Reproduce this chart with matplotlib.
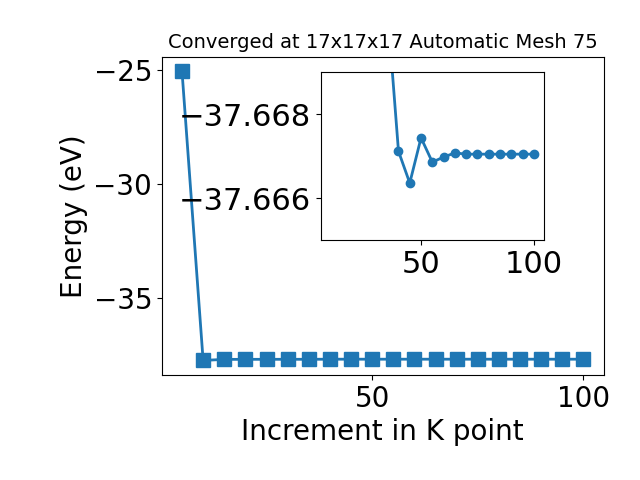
import matplotlib
matplotlib.use('Agg')
import matplotlib.pyplot as plt

# K point increments and total energies (eV)
kpts = [5, 10, 15, 20, 25, 30, 35, 40, 45, 50, 55, 60, 65, 70, 75, 80, 85, 90, 95, 100]
energy = [-25.05, -37.72, -37.675, -37.673, -37.672, -37.671, -37.6706,
          -37.66712, -37.66636, -37.66744, -37.66686, -37.66698, -37.66708,
          -37.66705, -37.66705, -37.66705, -37.66705, -37.66705, -37.66705, -37.66705]

plt.rcParams['font.size'] = 20

fig = plt.figure(figsize=(6.4, 4.8), dpi=100)
ax = fig.add_axes([0.253, 0.219, 0.69, 0.663])
ax.plot(kpts, energy, marker='s', markersize=10, lw=2)
ax.set_xlabel('Increment in K point')
ax.set_ylabel('Energy (eV)')
ax.set_title('Converged at 17x17x17 Automatic Mesh 75', fontsize=14)
ax.set_xticks([50, 100])
ax.set_yticks([-25, -30, -35])

# zoomed inset
ins = fig.add_axes([0.501, 0.5, 0.349, 0.349])
ins.plot(kpts[1:], energy[1:], marker='o', markersize=6, lw=2)
ins.set_ylim(-37.665, -37.669)
ins.set_xticks([50, 100])
ins.set_yticks([-37.668, -37.666])
ins.ticklabel_format(axis='y', useOffset=False)
ins.tick_params(labelsize=22)

fig.savefig('out.png')
